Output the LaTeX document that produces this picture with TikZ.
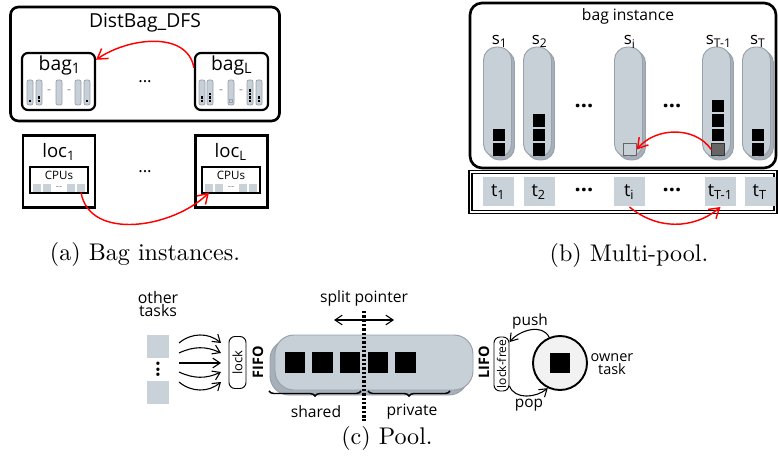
\documentclass[tikz,border=0pt]{standalone}
\usepackage{fontspec}
\newfontfamily\osans{Open Sans}
\usetikzlibrary{positioning,arrows.meta,shadows,decorations.pathreplacing}
\newdimen\px \px=0.415pt
\definecolor{stackgray}{HTML}{C7CFD7}
\definecolor{stackline}{HTML}{98A2AC}
\definecolor{stackshade}{HTML}{A7AFB8}
\definecolor{cellgray}{HTML}{C9D1D9}

\begin{document}
\begin{tikzpicture}[x=\px,y=-\px,on grid,>={Straight Barb[length=3pt,width=4pt]}]

      \tikzset{lbl/.style={font=\osans\fontsize{#1}{#1}\selectfont,inner sep=0pt},
        capt/.style={font=\rmfamily\fontsize{10}{12}\selectfont,inner sep=0pt},
        frame/.style={draw,line width=1.1pt,rounded corners=8\px},
        bagbox/.style={draw,line width=0.9pt,rounded corners=6\px,minimum width=73\px,minimum height=57\px},
        locbox/.style={draw,line width=1.2pt,minimum size=72\px},
        cpubox/.style={draw,line width=0.5pt,minimum width=58\px,minimum height=26\px},
        core/.style={fill=cellgray,inner sep=0pt,minimum size=8\px},
        ministack/.style={draw=stackline,fill=stackgray,line width=0.3pt,rounded corners=2\px,inner sep=0pt,minimum width=6\px,minimum height=25\px},
        minibit/.style={fill=black,inner sep=0pt,minimum size=2.6\px},
        stack/.style={draw=stackline,fill=stackgray,line width=0.4pt,rounded corners=13\px,inner sep=0pt,minimum width=28\px,minimum height=110\px,
          copy shadow={shadow xshift=3\px,shadow yshift=-3\px,fill=stackshade,draw=stackline}},
        blk/.style={fill=black,inner sep=0pt,minimum size=12.5\px},
        tbox/.style={fill=cellgray,inner sep=0pt,minimum width=31\px,minimum height=29\px,lbl=7.5},
        dotsb/.style={lbl=9,font=\osans\bfseries\fontsize{9}{9}\selectfont},
        cell/.style={fill=cellgray,inner sep=0pt,minimum size=22.5\px},
        lockbox/.style={draw,line width=0.4pt,rounded corners=6\px,inner sep=0pt,lbl=5.4},
        pool/.style={draw=stackline,fill=stackgray,line width=0.4pt,rounded corners=19\px,minimum width=198\px,minimum height=55\px,
          copy shadow={shadow xshift=-5\px,shadow yshift=-5\px,fill=stackshade,draw=stackline}},
        redarr/.style={draw=red,line width=0.6pt,-{Straight Barb[length=4pt,width=5pt]}},
        thinarr/.style={line width=0.45pt,->},
        splitline/.style={line width=1.25pt,dash pattern=on 1pt off 0.8pt},
        brace/.style={decorate,decoration={brace,mirror,amplitude=5\px},line width=0.6pt}}

      \useasboundingbox (0,0) rectangle (778,465);

      % (a) bag instances
      \node[frame,minimum width=269\px,minimum height=114\px] (dist) at (145,64) {};
      \node[lbl=8] (distname) at (145,23) {DistBag\_DFS};
      \node[bagbox] (bagA) at (58.5,81.5) {};
      \node[bagbox] (bagB) at (231.5,81.5) {};
      \node[lbl=8] (bagAname) at (60,65) {bag\textsubscript{1}};
      \node[lbl=8] (bagBname) at (232,65) {bag\textsubscript{L}};
      \node[lbl=7] (dotsbag) at (145,82) {...};

      \foreach \x [count=\k] in {30,39,59,78,87}
        \node[ministack] (ma\k) at (\x,92.5) {};
      \foreach \x [count=\k] in {202,210,231,250,259}
        \node[ministack] (mb\k) at (\x,92.5) {};
      \foreach \x/\y [count=\k] in {30/101,39/101,39/97.5,87/101}
        \node[minibit] (bitA\k) at (\x,\y) {};
      \foreach \x/\y [count=\k] in {202/101,202/97.5,210/101,210/97.5,210/94,250/101,250/97.5,250/94,250/90.5,259/101,259/97.5}
        \node[minibit] (bitB\k) at (\x,\y) {};
      \node[draw=stackline,line width=0.3pt,inner sep=0pt,minimum size=2.6\px] (bitBi) at (231,101) {};
      \foreach \x [count=\k] in {49,69,221,241}
        \node[lbl=5,text=gray] (gap\k) at (\x,92) {-};

      \draw[redarr] (bagB.160) to[out=100,in=35] (bagA.30);

      \node[locbox] (locA) at (59,171.5) {};
      \node[locbox] (locB) at (231.5,171.5) {};
      \node[lbl=7.7] (locAname) at (59,152) {loc\textsubscript{1}};
      \node[lbl=7.7] (locBname) at (231,152) {loc\textsubscript{L}};
      \node[lbl=7] (dotsloc) at (145,172) {...};
      \node[cpubox] (cpuA) at (59,180) {};
      \node[cpubox] (cpuB) at (231,180) {};
      \node[lbl=4.8] (cpuAname) at (59,175) {CPUs};
      \node[lbl=4.8] (cpuBname) at (231,175) {CPUs};
      \foreach \x [count=\k] in {37,47,71,81}
        \node[core] (cA\k) at (\x,188) {};
      \foreach \x [count=\k] in {209,219,243,253}
        \node[core] (cB\k) at (\x,188) {};
      \node[lbl=4,text=gray] (cAgap) at (59,188) {--};
      \node[lbl=4,text=gray] (cBgap) at (231,188) {--};

      \draw[redarr] (cA4.south) to[out=-80,in=-135] (cB1.south);

      % (b) multi-pool
      \node[frame,rounded corners=12\px,minimum width=306\px,minimum height=165\px] (inst) at (623,85.5) {};
      \node[lbl=6.5] (instname) at (628,16) {bag instance};

      \node[stack] (s1) at (497.5,102) {};
      \node[stack] (s2) [right=40\px of s1] {};
      \node[stack] (si) [right=91\px of s2] {};
      \node[stack] (sT1) [right=88\px of si] {};
      \node[stack] (sT) [right=40\px of sT1] {};

      \node[lbl=7,anchor=base] (s1name) at (500,45) {s\textsubscript{1}};
      \node[lbl=7,anchor=base] (s2name) at (540,45) {s\textsubscript{2}};
      \node[lbl=7,anchor=base] (siname) at (630,45) {s\textsubscript{i}};
      \node[lbl=7,anchor=base] (sT1name) at (719,45) {s\textsubscript{T-1}};
      \node[lbl=7,anchor=base] (sTname) at (758,45) {s\textsubscript{T}};

      \foreach \y [count=\k] in {149.5,135}
        \node[blk] (qa\k) at (499,\y) {};
      \foreach \y [count=\k] in {149.5,135,120.5}
        \node[blk] (qb\k) at (539,\y) {};
      \node[blk,fill=none,draw=gray!80!black,line width=0.4pt] (qfree) at (630,149.5) {};
      \node[blk,fill=black!60,draw=black!80,line width=0.4pt] (qsteal) at (718,149.5) {};
      \foreach \y [count=\k] in {135,120.5,106}
        \node[blk] (qd\k) at (718,\y) {};
      \foreach \y [count=\k] in {149.5,135}
        \node[blk] (qe\k) at (758,\y) {};

      \node[dotsb] (dotsS1) at (584,106) {...};
      \node[dotsb] (dotsS2) at (672,106) {...};

      \draw[redarr] (qsteal.west) to[out=125,in=50] (qfree.east);

      \node[draw,line width=0.6pt,double,double distance=0.8pt,minimum width=305\px,minimum height=40\px] (trow) at (623,192) {};
      \node[tbox] (t1) at (498.5,192) {t\textsubscript{1}};
      \node[tbox] (t2) at (539,192) {t\textsubscript{2}};
      \node[tbox] (ti) at (629.5,192) {t\textsubscript{i}};
      \node[tbox] (tT1) at (720.5,192) {t\textsubscript{T-1}};
      \node[tbox] (tT) at (760,192) {t\textsubscript{T}};
      \node[dotsb] (dotsT1) at (584,190) {...};
      \node[dotsb] (dotsT2) at (672,190) {...};

      \draw[redarr] (ti.south) to[out=-40,in=-140] (tT1.south);

      % (c) pool
      \node[lbl=6.6,font=\osans\fontsize{6.6}{5.6}\selectfont,align=center] (others) at (158,304) {other\\tasks};
      \node[cell] (o1) at (158,346.5) {};
      \node[cell] (o2) at (158,392.5) {};
      \node[lbl=8,font=\osans\bfseries\fontsize{8}{8}\selectfont,rotate=90] (ovd) at (158,369.5) {...};

      \foreach \y/\b [count=\k] in {343/40,353/25,363/0,372/-25,382/-40} {
        \coordinate (fa\k) at (179,\y);
        \coordinate (fb\k) at (221,\y);
        \draw[thinarr] (fa\k) to[bend left=\b] (fb\k);
      }

      \node[lockbox,minimum width=17\px,minimum height=52\px] (lock) at (237.5,362.5) {\rotatebox{90}{lock}};
      \node[lbl=6,font=\osans\bfseries\fontsize{6}{6}\selectfont,rotate=90] (fifo) at (258,362) {FIFO};

      \node[pool] (pool) at (374,362.5) {};
      \foreach \x [count=\k] in {295,322.5,350,378,405.5}
        \node[blk,minimum size=20.5\px] (p\k) at (\x,362.5) {};

      \coordinate (sptop) at (364,311);
      \coordinate (spbot) at (364,421);
      \draw[splitline] (sptop) -- (spbot);
      \node[lbl=6.5] (spname) at (364,298) {split pointer};
      \coordinate (spl) at (334,320);
      \coordinate (spr) at (394,320);
      \draw[thinarr,<->] (spl) -- (spr);

      \coordinate (shl) at (269,391);
      \coordinate (shr) at (361,391);
      \coordinate (pvl) at (368,391);
      \coordinate (pvr) at (450,391);
      \draw[brace] (shl) -- (shr);
      \draw[brace] (pvl) -- (pvr);
      \node[lbl=6.5] (shared) at (316,412) {shared};
      \node[lbl=6.5] (private) at (412,412) {private};

      \node[lbl=6,font=\osans\bfseries\fontsize{6}{6}\selectfont,rotate=90] (lifo) at (484,362) {LIFO};
      \node[lockbox,lbl=5,minimum width=15\px,minimum height=54\px] (lockfree) at (501.5,364) {\rotatebox{90}{lock-free}};

      \node[circle,draw,line width=0.8pt,fill=gray!10,minimum size=54\px] (owner) at (560,363) {};
      \node[blk,minimum size=20\px] (ownsq) at (560,363) {};
      \node[lbl=6,font=\osans\fontsize{6}{5.6}\selectfont,align=center] (ownname) at (612,364) {owner\\task};

      \draw[thinarr] (owner.113) to[out=115,in=50] (lockfree.70);
      \draw[thinarr] (lockfree.-70) to[out=-70,in=-140] (owner.244);
      \node[lbl=6.4] (pushname) at (530,321) {push};
      \node[lbl=6.4] (popname) at (529,405) {pop};

      % captions
      \node[capt] (captA) at (145,254) {(a) Bag instances.};
      \node[capt] (captB) at (629,255) {(b) Multi-pool.};
      \node[capt] (captC) at (387,438) {(c) Pool.};
    \end{tikzpicture}
\end{document}
